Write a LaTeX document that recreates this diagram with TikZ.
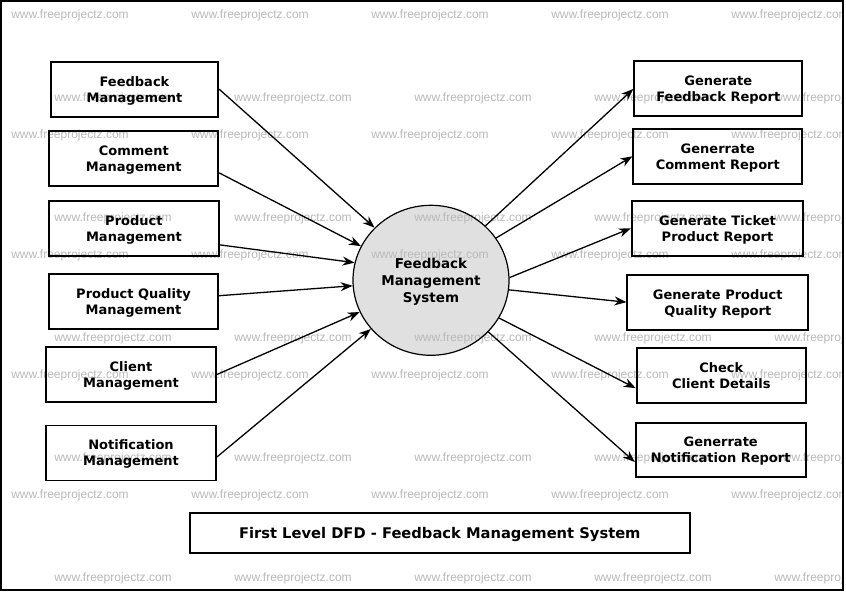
\documentclass[tikz,border=0pt]{standalone}
\usepackage{fontspec}
\setmainfont{DejaVu Sans}
\newfontfamily\wmfont{Liberation Sans}
\usetikzlibrary{shapes.geometric,arrows.meta,calc}
\begin{document}
\begin{tikzpicture}[x=1pt,y=-1pt,
  box/.style={draw=black, line width=1.8pt, minimum height=55pt, inner sep=0pt, align=center,
    text depth=0pt, font=\bfseries\fontsize{13}{16}\selectfont},
  proc/.style={ellipse, draw=black, line width=1.2pt, minimum width=156pt, minimum height=150pt,
    inner sep=0pt, align=center, text depth=0pt, font=\bfseries\fontsize{13.5}{17}\selectfont},
  wm/.style={text=gray!55, inner sep=0pt, font=\wmfont\fontsize{12}{12}\selectfont},
  flow/.style={draw=black, line width=1.3pt, -{Stealth[length=12pt,width=9pt]}},
  titlebox/.style={draw=black, line width=1.8pt, minimum width=500pt, minimum height=40pt, inner sep=0pt,
    text depth=0pt, font=\bfseries\fontsize{14.7}{17}\selectfont}]
\useasboundingbox (0,0) rectangle (846,593);
\fill[white] (0,0) rectangle (846,593);
% circle fill (behind watermark)
\fill[black!12] (431,280.3) ellipse [x radius=78, y radius=75];
% watermarks
\begin{scope}
\clip (2,2) rectangle (842,589);
\foreach \yy in {15,135,255,375,495}
  \foreach \xx in {70,250,430,610,790}
    \node[wm] (wa-\xx-\yy) at (\xx,\yy) {www.freeprojectz.com};
\foreach \yy in {98,218,338,458,578}
  \foreach \xx in {113,293,473,653,833}
    \node[wm] (wb-\xx-\yy) at (\xx,\yy) {www.freeprojectz.com};
\end{scope}
% frame
\draw[line width=2pt] (1,1) rectangle (843,590);
% process
\node[proc] (c) at (431,280.3) {Feedback\\Management\\System};
% left boxes
\node[box, minimum width=167.6pt] (l1) at (134.5,89.2) {Feedback\\Management};
\node[box, minimum width=169pt] (l2) at (133.8,158.9) {Comment\\Management};
\node[box, minimum width=170.3pt] (l3) at (133.9,228.9) {Product\\Management};
\node[box, minimum width=169.6pt] (l4) at (133.5,301.7) {Product Quality\\Management};
\node[box, minimum width=170pt] (l5) at (131,374.5) {Client\\Management};
\node[box, minimum width=170pt] (l6) at (131,453) {Notification\\Management};
% right boxes
\node[box, minimum width=168pt] (r1) at (718.3,88.9) {Generate\\Feedback Report};
\node[box, minimum width=169pt] (r2) at (717.8,156.3) {Generrate\\Comment Report};
\node[box, minimum width=171.6pt] (r3) at (717.5,228.3) {Generate Ticket\\Product Report};
\node[box, minimum width=181pt] (r4) at (717.8,302.2) {Generate Product\\Quality Report};
\node[box, minimum width=169.3pt] (r5) at (721.3,375.2) {Check\\Client Details};
\node[box, minimum width=170pt, minimum height=53.4pt] (r6) at (720.7,450) {Generrate\\Notification Report};
% title
\node[titlebox] (t) at (439.8,532.7) {First Level DFD - Feedback Management System};
% flows in
\draw[flow] (l1.east) -- (c.137);
\draw[flow] ($(l2.east)+(0,14)$) -- (c.154);
\draw[flow] ($(l3.east)+(0,16)$) -- (c.167);
\draw[flow] ($(l4.east)+(0,-6)$) -- (c.184);
\draw[flow] (l5.east) -- (c.204);
\draw[flow] ($(l6.east)+(0,4)$) -- (c.219);
% flows out
\draw[flow] (c.45) -- (r1.west);
\draw[flow] (c.33) -- (r2.west);
\draw[flow] (c.2) -- (r3.west);
\draw[flow] (c.353) -- (r4.west);
\draw[flow] (c.331) -- ($(r5.west)+(0,13)$);
\draw[flow] (c.318) -- ($(r6.west)+(0,12)$);
\end{tikzpicture}
\end{document}
